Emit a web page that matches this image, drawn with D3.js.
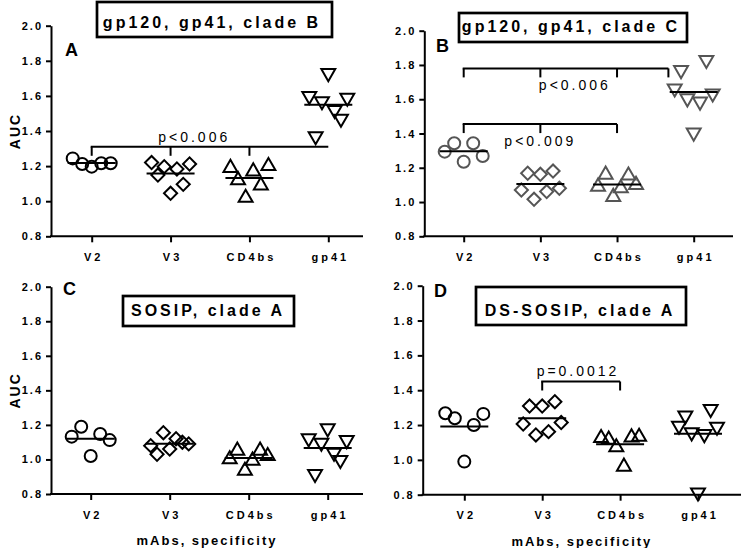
<!DOCTYPE html>
<html>
<head>
<meta charset="utf-8">
<script src="https://cdn.jsdelivr.net/npm/d3@7"></script>
<style>
  body { margin: 0; background: #fff; }
  svg { display: block; font-family: "Liberation Sans", Arial, sans-serif; }
</style>
</head>
<body>
<script>
// categories and axis ticks
var categories = ["V2", "V3", "CD4bs", "gp41"];
var yTicks = [0.8, 1.0, 1.2, 1.4, 1.6, 1.8, 2.0];

// AUC values per specificity (V2, V3, CD4bs, gp41), left-to-right order as plotted
var cladeB = [
  [1.244, 1.212, 1.197, 1.216, 1.216],
  [1.220, 1.149, 1.197, 1.045, 1.184, 1.096, 1.212],
  [1.19, 1.12, 1.02, 1.17, 1.09, 1.20],
  [1.60, 1.37, 1.57, 1.73, 1.52, 1.47, 1.59]
];
var cladeC = [
  [1.294, 1.343, 1.235, 1.343, 1.269],
  [1.070, 1.168, 1.016, 1.162, 1.061, 1.181, 1.080],
  [1.09, 1.16, 1.03, 1.08, 1.155, 1.10],
  [1.663, 1.770, 1.605, 1.405, 1.586, 1.829, 1.634]
];
var sosipA = [
  [1.132, 1.189, 1.020, 1.147, 1.112],
  [1.08, 1.03, 1.155, 1.06, 1.12, 1.10, 1.09],
  [1.001, 1.051, 0.935, 0.993, 1.051, 1.020],
  [1.122, 0.916, 1.097, 1.180, 1.039, 0.997, 1.112]
];
var dsSosipA = [
  [1.268, 1.239, 0.990, 1.200, 1.264],
  [1.206, 1.309, 1.143, 1.309, 1.162, 1.334, 1.214],
  [1.125, 1.116, 1.072, 0.961, 1.129, 1.133],
  [1.196, 1.254, 1.158, 0.813, 1.148, 1.292, 1.190]
];

// significance brackets (positions in category units)
var brackets = [
  {panel: "A", y: 1.31, from: 0, to: 3, ticks: [0, 1, 2], label: "p<0.006", at: 1.3, place: "above"},
  {panel: "B", y: 1.78, from: 0, to: 2.67, ticks: [0, 1, 2, 2.67], label: "p<0.006", at: 1.45, place: "below"},
  {panel: "B", y: 1.455, from: 0, to: 2, ticks: [0, 1, 2], label: "p<0.009", at: 1.0, place: "below"},
  {panel: "D", y: 1.45, from: 1, to: 2, ticks: [1, 2], label: "p=0.0012", at: 1.46, place: "above"}
];

var panels = [
  {id: "A", data: cladeB, title: "gp120, gp41, clade B", left: 51, first: 91.7, last: 328.3, right: 363,
   top: 25.7, bottom: 236.3, box: [97, 2, 235, 35], tx: 212, ty: 28, lx: 65, ly: 56, color: "#000", auc: true, xTitle: false},
  {id: "B", data: cladeC, title: "gp120, gp41, clade C", left: 424.3, first: 463.7, last: 693.7, right: 733,
   top: 30.7, bottom: 236.3, box: [459, 13, 228, 29], tx: 571, ty: 32, lx: 436, ly: 52, color: "#555", auc: false, xTitle: false},
  {id: "C", data: sosipA, title: "SOSIP, clade A", left: 51, first: 90.7, last: 327.7, right: 363,
   top: 286.7, bottom: 494, box: [123, 296, 171, 30], tx: 208, ty: 316, lx: 63, ly: 295, color: "#000", auc: true, xTitle: true},
  {id: "D", data: dsSosipA, title: "DS-SOSIP, clade A", left: 422.7, first: 464.3, last: 698, right: 741,
   top: 285.7, bottom: 494.7, box: [476, 287, 210, 38], tx: 580, ty: 316, lx: 434, ly: 297, color: "#000", auc: false, xTitle: true}
];

var symbols = [
  d3.symbol().type(d3.symbolCircle).size(113),
  d3.symbol().type(d3.symbolSquare).size(86),
  d3.symbol().type(d3.symbolTriangle).size(84),
  d3.symbol().type(d3.symbolTriangle).size(84)
];
var rotate = [0, 45, 0, 180];

var svg = d3.select("body").append("svg").attr("width", 742).attr("height", 548);

panels.forEach(function (p) {
  var g = svg.append("g");
  var x = d3.scalePoint().domain(categories).range([p.first, p.last]);
  var y = d3.scaleLinear().domain([0.8, 2.0]).range([p.bottom, p.top]);
  var cx = function (c) { return p.first + c * (p.last - p.first) / 3; };

  // axes
  var ya = g.append("g").attr("transform", "translate(" + p.left + ",0)")
    .call(d3.axisLeft(y).tickValues(yTicks).tickFormat(d3.format(".1f")).tickSize(5).tickSizeOuter(0).tickPadding(3));
  var xa = g.append("g").attr("transform", "translate(0," + p.bottom + ")")
    .call(d3.axisBottom(x).tickSize(6).tickSizeOuter(0).tickPadding(11));
  xa.select(".domain").remove();
  g.append("line").attr("x1", p.left - 1).attr("x2", p.right)
    .attr("y1", p.bottom).attr("y2", p.bottom).attr("stroke", "#000").attr("stroke-width", 2);
  [ya, xa].forEach(function (a) {
    a.select(".domain").attr("stroke-width", 2);
    a.selectAll(".tick line").attr("stroke-width", 2);
    a.selectAll(".tick text").attr("font-size", 11).attr("font-weight", "bold")
      .attr("font-family", "Liberation Sans, Arial, sans-serif");
  });
  ya.selectAll(".tick text").style("letter-spacing", "2px");
  xa.selectAll(".tick text").style("letter-spacing", "3px").attr("dx", "1.5px");

  // points and mean lines
  p.data.forEach(function (vals, ci) {
    var n = vals.length, step = 38 / (n - 1), c = x(categories[ci]);
    g.selectAll(null).data(vals).enter().append("path")
      .attr("d", symbols[ci])
      .attr("transform", function (v, i) {
        return "translate(" + (c + (i - (n - 1) / 2) * step) + "," + y(v) + ") rotate(" + rotate[ci] + ")";
      })
      .attr("fill", "none").attr("stroke", p.color).attr("stroke-width", 2);
    var m = d3.mean(vals);
    g.append("line").attr("x1", c - 24).attr("x2", c + 24).attr("y1", y(m)).attr("y2", y(m))
      .attr("stroke", "#000").attr("stroke-width", 2);
  });

  // brackets
  brackets.filter(function (b) { return b.panel === p.id; }).forEach(function (b) {
    var yb = y(b.y);
    g.append("line").attr("x1", cx(b.from) - 1).attr("x2", cx(b.to)).attr("y1", yb).attr("y2", yb)
      .attr("stroke", "#000").attr("stroke-width", 2);
    b.ticks.forEach(function (t) {
      g.append("line").attr("x1", cx(t)).attr("x2", cx(t)).attr("y1", yb).attr("y2", yb + 9)
        .attr("stroke", "#000").attr("stroke-width", 2);
    });
    g.append("text").attr("x", cx(b.at)).attr("y", b.place === "above" ? yb - 5 : yb + 22)
      .attr("text-anchor", "middle").attr("font-size", 14).style("letter-spacing", "3px")
      .text(b.label);
  });

  // title box
  g.append("rect").attr("x", p.box[0]).attr("y", p.box[1]).attr("width", p.box[2]).attr("height", p.box[3])
    .attr("fill", "#fff").attr("stroke", "#000").attr("stroke-width", 2.7);
  g.append("text").attr("x", p.tx).attr("y", p.ty).attr("text-anchor", "middle")
    .attr("font-size", 16).attr("font-weight", "bold").style("letter-spacing", "3px").text(p.title);

  // panel letter
  g.append("text").attr("x", p.lx).attr("y", p.ly).attr("font-size", 18).attr("font-weight", "bold").text(p.id);

  if (p.auc) {
    g.append("text").attr("transform", "translate(20," + (p.top + p.bottom) / 2 + ") rotate(-90)")
      .attr("text-anchor", "middle").attr("font-size", 14).attr("font-weight", "bold")
      .style("letter-spacing", "2px").text("AUC");
  }
  if (p.xTitle) {
    g.append("text").attr("x", (p.left + p.right) / 2).attr("y", p.bottom + 51)
      .attr("text-anchor", "middle").attr("font-size", 13).attr("font-weight", "bold")
      .style("letter-spacing", "2px").text("mAbs, specificity");
  }
});
</script>
</body>
</html>
